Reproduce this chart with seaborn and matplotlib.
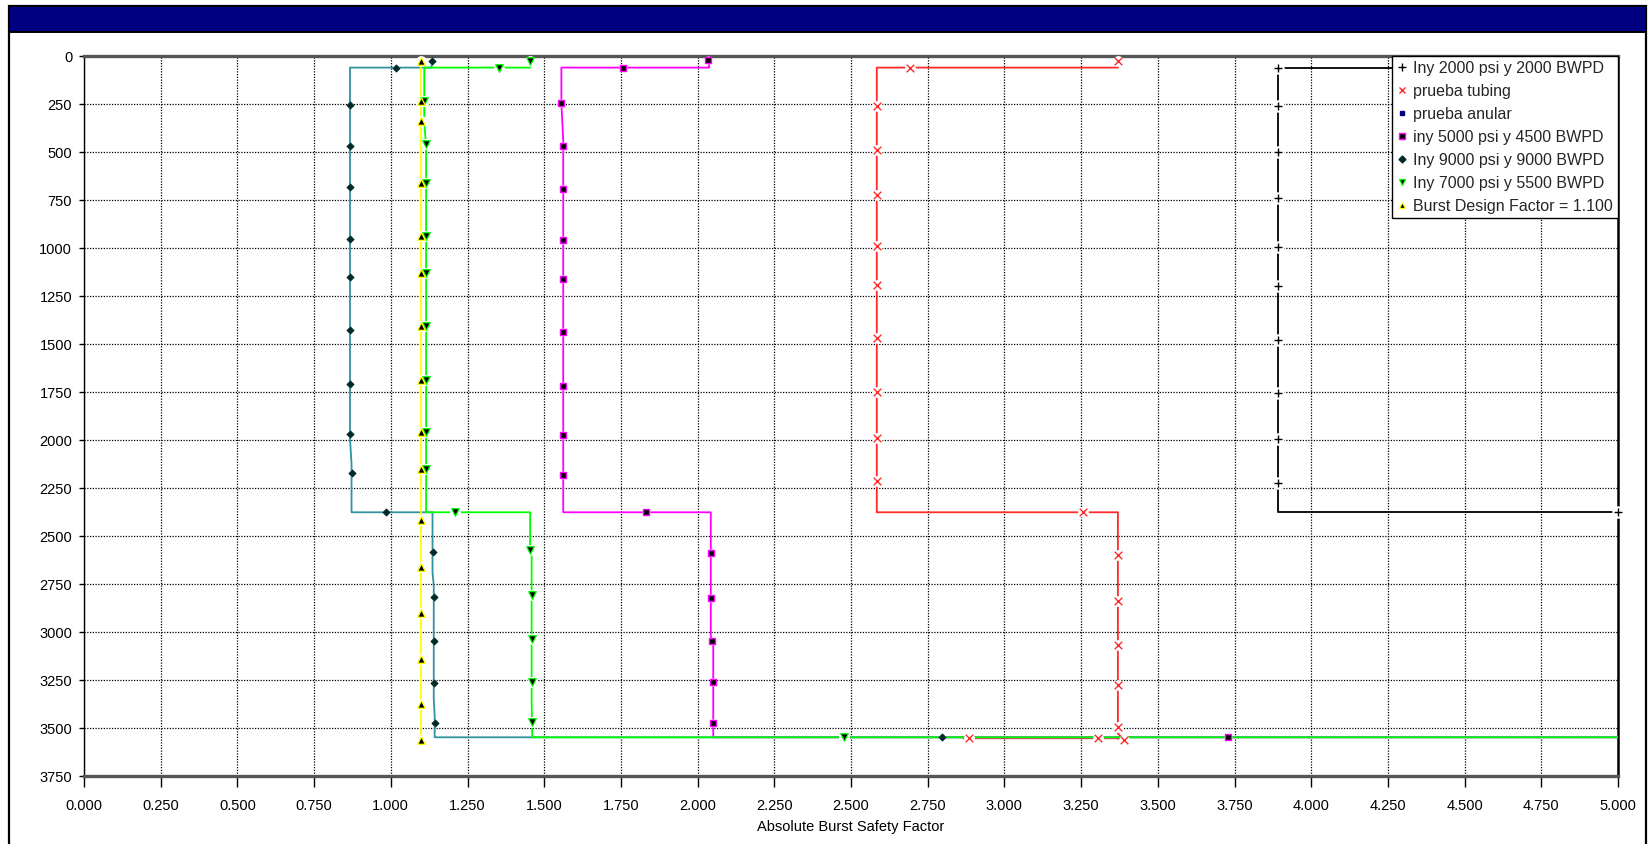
import numpy as np
import pandas as pd
import matplotlib
matplotlib.use("Agg")
import matplotlib.pyplot as plt
from matplotlib.lines import Line2D
from matplotlib.patches import Rectangle
from matplotlib.ticker import FixedLocator, FormatStrFormatter
import seaborn as sns

# ---------------- data ----------------
x_ticks = [0.0, 0.25, 0.5, 0.75, 1.0, 1.25, 1.5, 1.75, 2.0, 2.25, 2.5, 2.75,
           3.0, 3.25, 3.5, 3.75, 4.0, 4.25, 4.5, 4.75, 5.0]
y_ticks = [0, 250, 500, 750, 1000, 1250, 1500, 1750, 2000, 2250, 2500, 2750,
           3000, 3250, 3500, 3750]
x_label = "Absolute Burst Safety Factor"

labels = ["Iny 2000 psi y 2000 BWPD", "prueba tubing", "prueba anular",
          "iny 5000 psi y 4500 BWPD", "Iny 9000 psi y 9000 BWPD",
          "Iny 7000 psi y 5500 BWPD", "Burst Design Factor = 1.100"]

# Iny 2000 psi y 2000 BWPD (black, +)
blk_path_sf = [5.300, 3.891, 3.891, 5.300]
blk_path_depth = [62, 62, 2378, 2378]
blk_mark_sf = [3.891, 3.891, 3.891, 3.891, 3.891, 3.891, 3.891, 3.891, 3.891, 3.891, 5.000]
blk_mark_depth = [62, 263, 499, 740, 997, 1200, 1480, 1759, 1994, 2224, 2378]

# prueba tubing (red, x)
red_path_sf = [3.370, 3.370, 2.584, 2.584, 3.370, 3.370, 3.390, 3.366, 2.866]
red_path_depth = [26, 62, 62, 2378, 2378, 3530, 3565, 3555, 3555]
red_mark_sf = [3.370, 2.692, 2.584, 2.584, 2.584, 2.584, 2.584, 2.584, 2.584, 2.584,
               2.584, 3.257, 3.370, 3.370, 3.370, 3.370, 3.370, 3.390, 3.306, 2.885]
red_mark_depth = [26, 62, 263, 491, 725, 990, 1194, 1472, 1750, 1993, 2215, 2378,
                  2599, 2842, 3068, 3276, 3495, 3565, 3555, 3555]

# iny 5000 psi y 4500 BWPD (magenta, square)
mag_path_sf = [2.035, 2.038, 1.556, 1.556, 1.562, 1.562, 2.043, 2.043, 2.051, 2.051, 5.300]
mag_path_depth = [22, 62, 62, 250, 440, 2378, 2378, 3020, 3070, 3550, 3550]
mag_mark_sf = [2.035, 1.756, 1.556, 1.562, 1.562, 1.562, 1.562, 1.562, 1.562, 1.562,
               1.562, 1.832, 2.043, 2.043, 2.047, 2.051, 2.051, 3.730]
mag_mark_depth = [22, 62, 248, 472, 693, 961, 1163, 1437, 1719, 1974, 2182, 2378,
                  2588, 2823, 3047, 3263, 3478, 3550]

# Iny 9000 psi y 9000 BWPD (teal, diamond)
teal_path_sf = [1.133, 1.133, 0.867, 0.867, 0.872, 0.872, 1.136, 1.136, 1.140, 1.140,
                1.143, 1.143, 5.300]
teal_path_depth = [29, 62, 62, 1996, 2126, 2378, 2378, 2690, 2760, 3350, 3437, 3550, 3550]
teal_mark_sf = [1.133, 1.016, 0.867, 0.867, 0.867, 0.867, 0.867, 0.867, 0.867, 0.867,
                0.872, 0.983, 1.136, 1.140, 1.140, 1.140, 1.143, 2.795]
teal_mark_depth = [29, 62, 257, 470, 684, 953, 1154, 1429, 1710, 1972, 2173, 2378,
                   2583, 2818, 3047, 3267, 3475, 3550]

# Iny 7000 psi y 5500 BWPD (green, triangle down)
grn_path_sf = [1.454, 1.454, 1.109, 1.109, 1.115, 1.115, 1.454, 1.454, 1.459, 1.459,
               1.461, 5.300]
grn_path_depth = [29, 62, 62, 347, 469, 2378, 2378, 2552, 2604, 3368, 3550, 3550]
grn_mark_sf = [1.454, 1.353, 1.109, 1.115, 1.115, 1.115, 1.115, 1.115, 1.115, 1.115,
               1.115, 1.209, 1.454, 1.459, 1.459, 1.459, 1.461, 2.476]
grn_mark_depth = [29, 62, 234, 462, 665, 937, 1133, 1406, 1689, 1961, 2153, 2378,
                  2573, 2809, 3038, 3263, 3468, 3550]

# Burst Design Factor = 1.100 (yellow, triangle up)
yel_path_sf = [1.100, 1.100]
yel_path_depth = [25, 3566]
yel_mark_sf = [1.100, 1.100, 1.100, 1.100, 1.100, 1.100, 1.100, 1.100, 1.100, 1.100,
               1.100, 1.100, 1.100, 1.100, 1.100, 1.100]
yel_mark_depth = [29, 234, 339, 665, 937, 1133, 1406, 1689, 1961, 2153, 2418, 2661,
                  2902, 3143, 3378, 3566]

# ---------------- style ----------------
sns.set_theme(style="white")
plt.rcParams['font.family'] = ['Liberation Sans', 'DejaVu Sans']

W, H = 1649, 845
fig = plt.figure(figsize=(W / 100, H / 100), dpi=100)
fig.patch.set_facecolor("white")

# outer frame and navy header
fig.patches.append(Rectangle((9 / W, -0.1), 1637 / W, 1.1 - 7 / H, transform=fig.transFigure,
                             fill=False, ec="black", lw=1.6, zorder=0))
fig.patches.append(Rectangle((9 / W, 1 - 33 / H), 1637 / W, 26 / H, transform=fig.transFigure,
                             fc="#000080", ec="black", lw=1.4, zorder=1))

ax = fig.add_axes([84 / W, 1 - 776.7 / H, 1534 / W, 720 / H])

series = [
    dict(ps=blk_path_sf, pd=blk_path_depth, ms=blk_mark_sf, md=blk_mark_depth,
         color="black", marker="+", fc="black", ec="black", s=40, lw=1.0),
    dict(ps=red_path_sf, pd=red_path_depth, ms=red_mark_sf, md=red_mark_depth,
         color="#ff2a2a", marker="x", fc="#ff2a2a", ec="#ff2a2a", s=30, lw=1.0),
    dict(ps=mag_path_sf, pd=mag_path_depth, ms=mag_mark_sf, md=mag_mark_depth,
         color="#ff00ff", marker="s", fc="black", ec="#ff00ff", s=16, lw=1.0),
    dict(ps=teal_path_sf, pd=teal_path_depth, ms=teal_mark_sf, md=teal_mark_depth,
         color="#2f93a0", marker="D", fc="#002a2a", ec="#002a2a", s=12, lw=0.8),
    dict(ps=grn_path_sf, pd=grn_path_depth, ms=grn_mark_sf, md=grn_mark_depth,
         color="#00ff00", marker="v", fc="black", ec="#00ff00", s=30, lw=0.9),
    dict(ps=yel_path_sf, pd=yel_path_depth, ms=yel_mark_sf, md=yel_mark_depth,
         color="#ffff00", marker="^", fc="black", ec="#ffff00", s=30, lw=0.9),
]

for i, sr in enumerate(series):
    z = 3 + i * 0.1
    sns.lineplot(x=sr["ps"], y=sr["pd"], sort=False, estimator=None, color=sr["color"],
                 lw=1.3, ax=ax, legend=False, zorder=z)
    # white halo behind the markers
    sns.scatterplot(x=sr["ms"], y=sr["md"], marker="o", s=sr["s"] * 2.0, color="white",
                    linewidth=0, ax=ax, legend=False, zorder=z + 1, clip_on=False)
    if sr["marker"] in ("+", "x"):
        sns.scatterplot(x=sr["ms"], y=sr["md"], marker=sr["marker"], s=sr["s"],
                        color=sr["color"], linewidth=sr["lw"], ax=ax, legend=False,
                        zorder=z + 2, clip_on=False)
    else:
        sns.scatterplot(x=sr["ms"], y=sr["md"], marker=sr["marker"], s=sr["s"],
                        facecolor=sr["fc"], edgecolor=sr["ec"], linewidth=sr["lw"], ax=ax,
                        legend=False, zorder=z + 2, clip_on=False)

# axes formatting
ax.set_xlim(0, 5)
ax.set_ylim(3750, 0)
ax.xaxis.set_major_locator(FixedLocator(x_ticks))
ax.yaxis.set_major_locator(FixedLocator(y_ticks))
ax.xaxis.set_major_formatter(FormatStrFormatter("%.3f"))
ax.yaxis.set_major_formatter(FormatStrFormatter("%d"))
ax.grid(True, color="black", linestyle=(0, (1, 1.2)), linewidth=0.9)
ax.set_axisbelow(True)
ax.tick_params(axis="x", direction="out", length=8, width=1, colors="black",
               labelsize=10.5, pad=8, bottom=True)
ax.tick_params(axis="y", direction="out", length=3.5, width=1, colors="black",
               labelsize=10.5, pad=5, left=True)
ax.set_xlabel(x_label, fontsize=10.5, color="black", labelpad=5)
ax.set_ylabel("")

for side in ("top", "bottom"):
    ax.spines[side].set_color("#555555")
    ax.spines[side].set_linewidth(2.4)
ax.spines["left"].set_color("black")
ax.spines["left"].set_linewidth(1.0)
ax.spines["right"].set_color("black")
ax.spines["right"].set_linewidth(1.8)

# legend (marker-only entries)
handles = [
    Line2D([], [], ls="none", marker="+", color="black", ms=6, mew=1.0),
    Line2D([], [], ls="none", marker="x", color="#ff2a2a", ms=5, mew=1.0),
    Line2D([], [], ls="none", marker="s", color="#000080", ms=2.5),
    Line2D([], [], ls="none", marker="s", mfc="black", mec="#ff00ff", ms=4, mew=1.0),
    Line2D([], [], ls="none", marker="D", mfc="#002a2a", mec="#002a2a", ms=3.5),
    Line2D([], [], ls="none", marker="v", mfc="black", mec="#00ff00", ms=5, mew=0.9),
    Line2D([], [], ls="none", marker="^", mfc="black", mec="#ffff00", ms=5, mew=0.9),
]
leg = ax.legend(handles, labels, loc="upper right", bbox_to_anchor=(1.0, 1.0),
                borderaxespad=0, fontsize=11.5, frameon=True, fancybox=False,
                framealpha=1, edgecolor="black", handlelength=0.7, handletextpad=0.35,
                borderpad=0.3, labelspacing=0.5)
leg.get_frame().set_linewidth(1.0)
leg.set_zorder(10)

fig.savefig("out.png", dpi=100, facecolor="white")
